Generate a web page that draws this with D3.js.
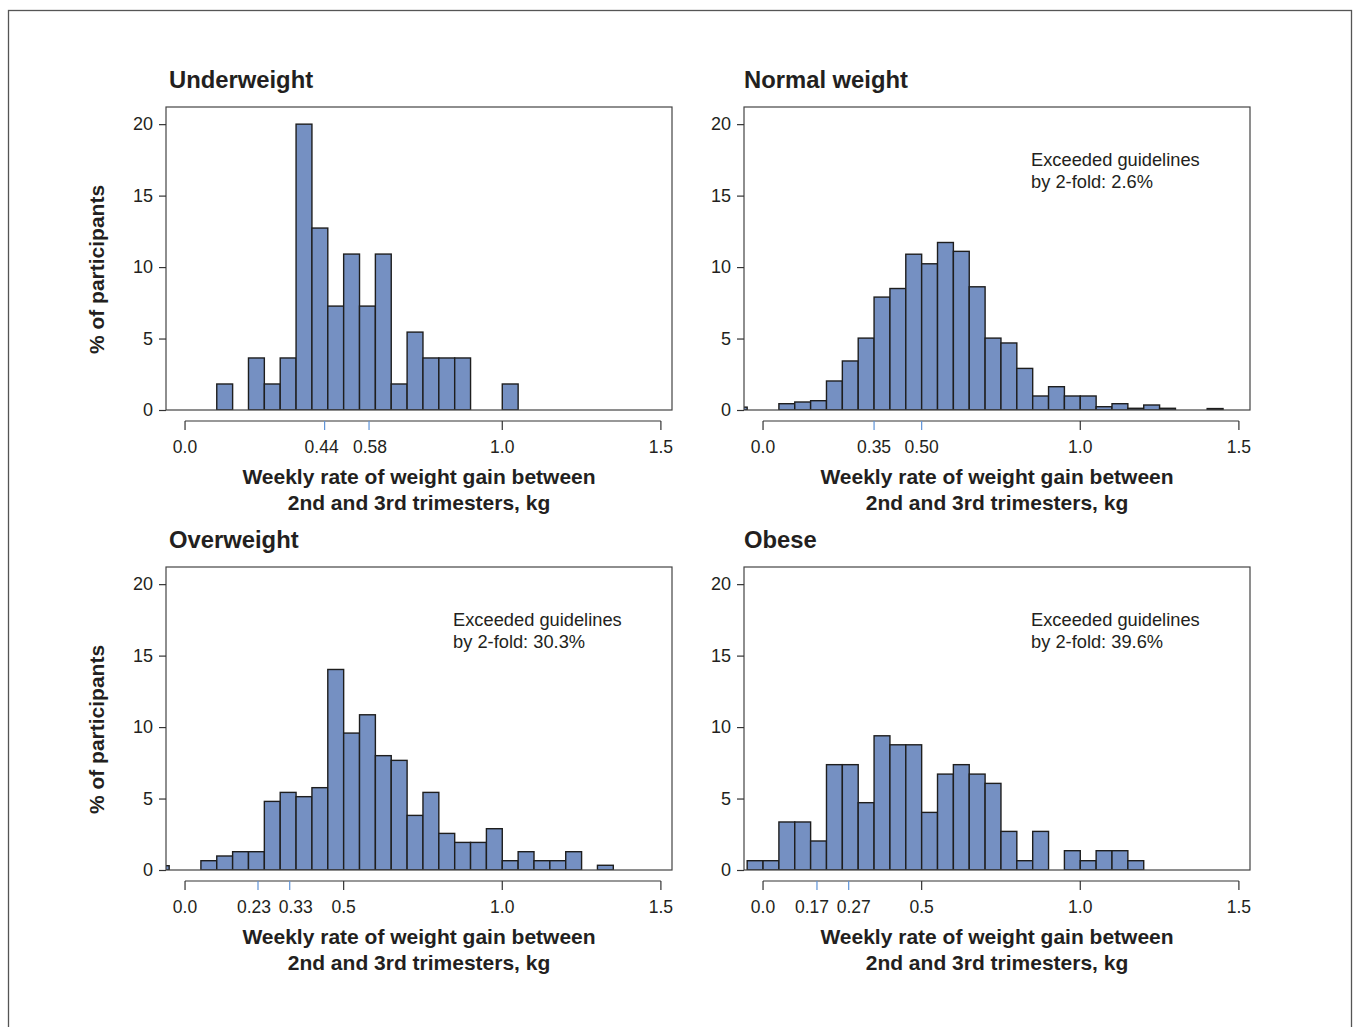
<!DOCTYPE html>
<meta charset="utf-8">
<style>
    body { margin: 0; background: #fff; }
    text { font-family: "Liberation Sans", Arial, Helvetica, sans-serif; fill: #231f20; }
</style>
<script src="https://d3js.org/d3.v7.min.js"></script>
<div id="chart"></div>
<script>

// left edges of the 0.05 kg bins
const binEdges = [-0.10, -0.05, 0.00, 0.05, 0.10, 0.15, 0.20, 0.25, 0.30, 0.35,
                  0.40, 0.45, 0.50, 0.55, 0.60, 0.65, 0.70, 0.75, 0.80, 0.85,
                  0.90, 0.95, 1.00, 1.05, 1.10, 1.15, 1.20, 1.25, 1.30, 1.35,
                  1.40, 1.45];
const binWidth = 0.05;

// % of participants per bin
const underweight = [0, 0, 0, 0, 1.82, 0, 3.64, 1.82, 3.64, 20,
                     12.73, 7.27, 10.91, 7.27, 10.91, 1.82, 5.45, 3.64, 3.64, 3.64,
                     0, 0, 1.82, 0, 0, 0, 0, 0, 0, 0,
                     0, 0];
const normalWeight = [0.2, 0, 0, 0.44, 0.56, 0.65, 2.03, 3.43, 5.03, 7.9,
                      8.5, 10.9, 10.23, 11.72, 11.1, 8.62, 5.03, 4.69, 2.91, 0.98,
                      1.63, 0.98, 0.98, 0.23, 0.44, 0.12, 0.35, 0.12, 0, 0,
                      0.1, 0];
const overweight = [0.3, 0, 0, 0.65, 0.98, 1.28, 1.28, 4.8, 5.43, 5.13,
                    5.76, 14.03, 9.58, 10.86, 8.0, 7.67, 3.82, 5.43, 2.56, 1.93,
                    1.93, 2.89, 0.65, 1.28, 0.65, 0.65, 1.28, 0, 0.33, 0,
                    0, 0];
const obese = [0, 0.65, 0.65, 3.36, 3.36, 2.03, 7.37, 7.37, 4.71, 9.39,
               8.76, 8.76, 4.03, 6.71, 7.37, 6.71, 6.06, 2.7, 0.65, 2.7,
               0, 1.35, 0.65, 1.35, 1.35, 0.65, 0, 0, 0, 0,
               0, 0];

const titles = ["Underweight", "Normal weight", "Overweight", "Obese"];
const exceeded = [null, "2.6%", "30.3%", "39.6%"];

// guideline range ticks (blue)
const guideTicks = [[0.44, 0.58], [0.35, 0.50], [0.23, 0.33], [0.17, 0.27]];
const guideLabels = [["0.44", "0.58"], ["0.35", "0.50"], ["0.23", "0.33"], ["0.17", "0.27"]];

// regular x ticks
const xTicksTop = [0, 1.0, 1.5];
const xLabelsTop = ["0.0", "1.0", "1.5"];
const xTicksBottom = [0, 0.5, 1.0, 1.5];
const xLabelsBottom = ["0.0", "0.5", "1.0", "1.5"];

const yTicks = [0, 5, 10, 15, 20];

const series = [underweight, normalWeight, overweight, obese];

// layout
const W = 1354, H = 1027;
const boxW = 506, boxH = 303;
const panelLeft = [166, 744, 166, 744];
const panelTop = [107, 107, 567, 567];
// horizontal nudge of the guideline labels so they don't collide
const guideShift = [[-3, 1], [0, 0], [-4, 6], [-5, 5]];

const svg = d3.select("#chart")
  .append("svg")
    .attr("width", W)
    .attr("height", H);

// outer frame
svg.append("rect")
    .attr("x", 8.5).attr("y", 10.5)
    .attr("width", 1343).attr("height", 1040)
    .attr("fill", "none")
    .attr("stroke", "#555")
    .attr("stroke-width", 1.3);

const x = d3.scaleLinear().domain([-0.06, 1.535]).range([0, boxW]);
const y = d3.scaleLinear().domain([0, 21.2]).range([boxH, 0]);

series.forEach(function(vals, i) {
  const g = svg.append("g")
      .attr("transform", `translate(${panelLeft[i]},${panelTop[i]})`);

  const clipId = "clip" + i;
  g.append("clipPath").attr("id", clipId)
    .append("rect").attr("width", boxW).attr("height", boxH);

  // bars
  const bins = binEdges.map((b, k) => ({x0: b, v: vals[k]})).filter(d => d.v > 0);
  g.append("g")
      .attr("clip-path", `url(#${clipId})`)
    .selectAll("rect")
    .data(bins)
    .join("rect")
      .attr("x", d => x(d.x0))
      .attr("y", d => y(d.v))
      .attr("width", d => x(d.x0 + binWidth) - x(d.x0))
      .attr("height", d => y(0) - y(d.v))
      .attr("fill", "#7590c2")
      .attr("stroke", "#1e1e1e")
      .attr("stroke-width", 1.4);

  // box
  g.append("rect")
      .attr("width", boxW).attr("height", boxH)
      .attr("fill", "none")
      .attr("stroke", "#444")
      .attr("stroke-width", 1.2);

  // y axis
  const ya = g.append("g")
      .call(d3.axisLeft(y).tickValues(yTicks).tickSize(7).tickPadding(6).tickFormat(d3.format("d")));
  ya.select(".domain").remove();
  ya.selectAll("line").attr("stroke", "#333").attr("stroke-width", 1.2);
  ya.selectAll("text").style("font-size", "18px").attr("fill", "#231f20");

  // x axis: line from 0 to 1.5 under the box
  const top = i < 2;
  const ticks = top ? xTicksTop : xTicksBottom;
  const labels = top ? xLabelsTop : xLabelsBottom;
  const allTicks = ticks.map((t, k) => ({v: t, label: labels[k], guide: false, dx: 0}))
    .concat(guideTicks[i].map((t, k) => ({v: t, label: guideLabels[i][k], guide: true, dx: guideShift[i][k]})));

  const xa = g.append("g").attr("transform", `translate(0,${boxH + 11})`);
  xa.append("line")
      .attr("x1", x(0)).attr("x2", x(1.5))
      .attr("stroke", "#333").attr("stroke-width", 1.2);
  xa.selectAll(".tk")
    .data(allTicks)
    .join("line")
      .attr("class", "tk")
      .attr("x1", d => x(d.v)).attr("x2", d => x(d.v))
      .attr("y1", 0).attr("y2", 9)
      .attr("stroke", d => d.guide ? "#5e93d8" : "#333")
      .attr("stroke-width", 1.2);
  xa.selectAll(".tl")
    .data(allTicks)
    .join("text")
      .attr("class", "tl")
      .attr("x", d => x(d.v) + d.dx)
      .attr("y", 32)
      .attr("text-anchor", "middle")
      .style("font-size", "17.5px")
      .text(d => d.label);

  // x axis title
  const xt = g.append("text")
      .attr("x", boxW / 2)
      .attr("y", boxH + 74)
      .attr("text-anchor", "middle")
      .style("font-size", "21px")
      .style("font-weight", "bold");
  xt.append("tspan").attr("x", boxW / 2).text("Weekly rate of weight gain between");
  xt.append("tspan").attr("x", boxW / 2).attr("dy", 26).text("2nd and 3rd trimesters, kg");

  // panel title
  g.append("text")
      .attr("x", i % 2 === 0 ? 3 : 0)
      .attr("y", -19)
      .style("font-size", "23.8px")
      .style("font-weight", "bold")
      .text(titles[i]);

  // annotation
  if (exceeded[i]) {
    const at = g.append("text")
        .attr("x", 287).attr("y", 59)
        .style("font-size", "18.3px");
    at.append("tspan").attr("x", 287).text("Exceeded guidelines");
    at.append("tspan").attr("x", 287).attr("dy", 22).text("by 2-fold: " + exceeded[i]);
  }

  // y axis title on left panels
  if (i % 2 === 0) {
    g.append("text")
        .attr("transform", `translate(${-62},${boxH / 2 + 11}) rotate(-90)`)
        .attr("text-anchor", "middle")
        .style("font-size", "21px")
        .style("font-weight", "bold")
        .text("% of participants");
  }
});

</script>
